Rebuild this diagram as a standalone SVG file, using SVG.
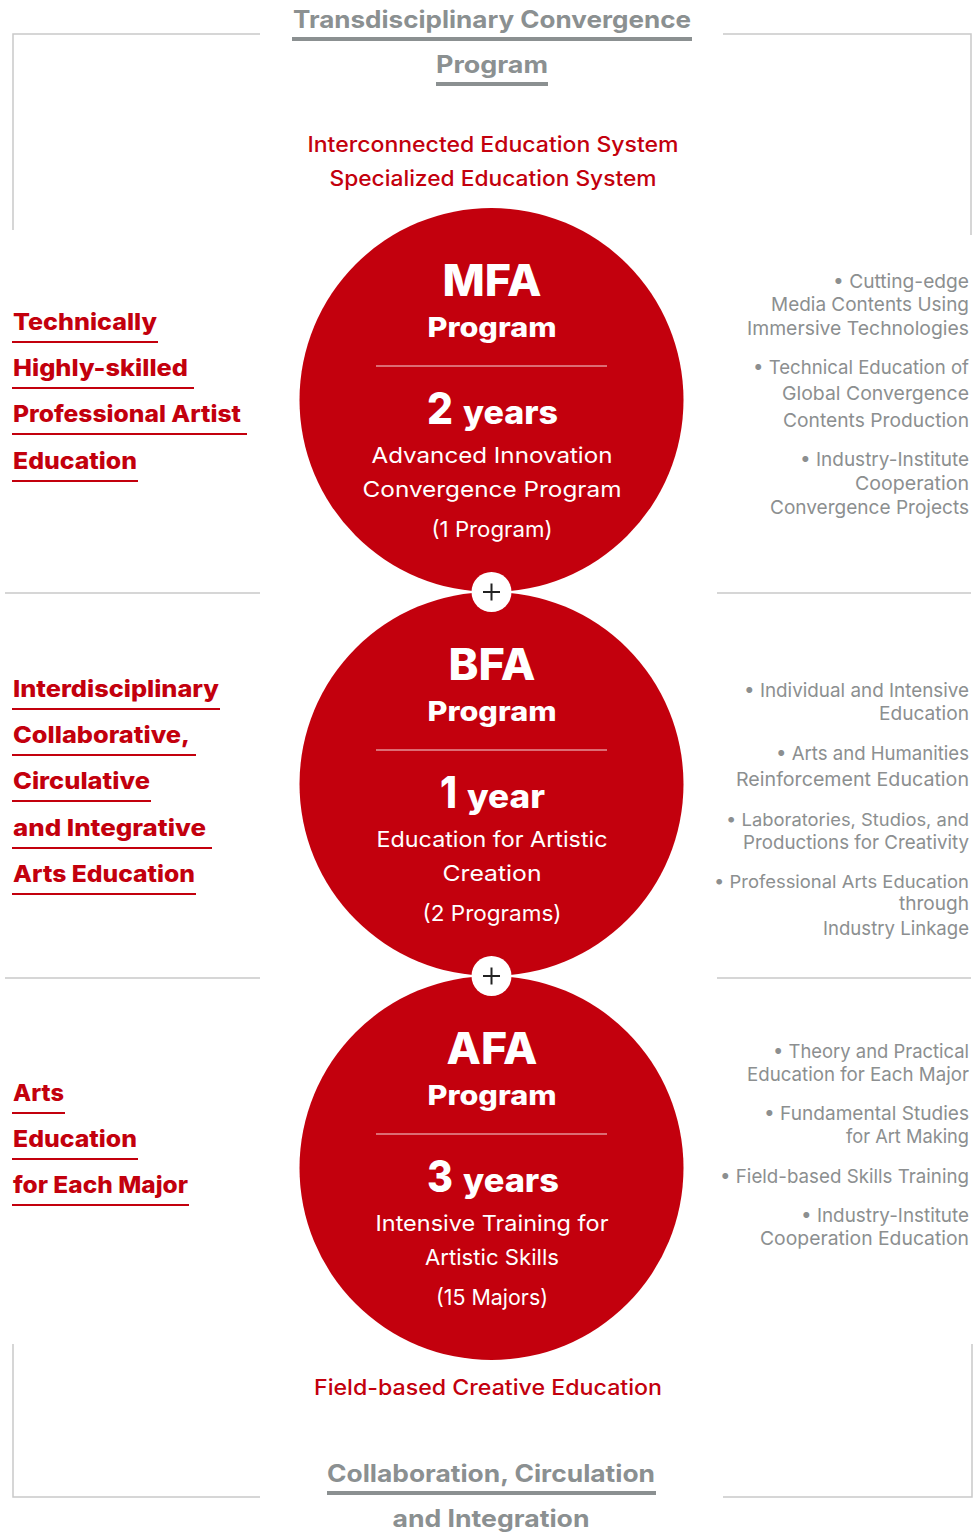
<svg xmlns="http://www.w3.org/2000/svg" width="974" height="1535" viewBox="0 0 974 1535">
<style>
.frame{stroke:#c9c9c9;stroke-width:1.5;fill:none}
.hdr{font-family:Inter,"Liberation Sans",sans-serif;font-weight:700;font-size:24px;fill:#8b9091;text-anchor:middle}
.hbar{fill:#8b9091}
.sys{font-family:Inter,"Liberation Sans",sans-serif;font-weight:500;font-size:21px;fill:#c3000d;text-anchor:middle}
.lbl{font-family:Inter,"Liberation Sans",sans-serif;font-weight:800;font-size:23px;fill:#c3000d}
.ul{stroke:#c3000d;stroke-width:2.2}
.rt{font-family:Inter,"Liberation Sans",sans-serif;font-weight:400;font-size:19px;fill:#8c8f90;text-anchor:end}
.rs{font-size:17.5px}
.circ{fill:#c3000d}
.big{font-family:Inter,"Liberation Sans",sans-serif;font-weight:800;font-size:44px;fill:#fff;text-anchor:middle}
.prog{font-family:Inter,"Liberation Sans",sans-serif;font-weight:800;font-size:27px;fill:#fff;text-anchor:middle}
.num{font-family:Inter,"Liberation Sans",sans-serif;font-weight:800;font-size:44px;fill:#fff}
.yr{font-family:Inter,"Liberation Sans",sans-serif;font-weight:800;font-size:32px;fill:#fff}
.desc{font-family:Inter,"Liberation Sans",sans-serif;font-weight:400;font-size:22px;fill:#fff;text-anchor:middle}
.div{stroke:#fff;stroke-opacity:0.85;stroke-width:1}
.plus{fill:#fff}
.pl{stroke:#222;stroke-width:2}
</style>

<g id="frame">
<path class="frame" d="M13 230 V34 H260 M723 34 H971 V235"/>
<path class="frame" d="M5 593 H260 M717 593 H971 M5 978 H260 M717 978 H971"/>
<path class="frame" d="M13 1344 V1497 H260 M723 1497 H972 V1344"/>
</g>

<g id="header-top">
<text class="hdr" x="492" y="28" textLength="398" lengthAdjust="spacingAndGlyphs">Transdisciplinary Convergence</text>
<rect class="hbar" x="292" y="37" width="400" height="4"/>
<text class="hdr" x="492" y="73" textLength="112" lengthAdjust="spacingAndGlyphs">Program</text>
<rect class="hbar" x="436" y="82" width="112" height="4"/>
</g>

<g id="system-label">
<text class="sys" x="493" y="152" textLength="371" lengthAdjust="spacingAndGlyphs">Interconnected Education System</text>
<text class="sys" x="493" y="186" textLength="327" lengthAdjust="spacingAndGlyphs">Specialized Education System</text>
</g>

<g id="mfa-left">
<text class="lbl" x="13" y="330" textLength="144" lengthAdjust="spacingAndGlyphs">Technically</text>
<line class="ul" x1="12" y1="342" x2="158" y2="342"/>
<text class="lbl" x="13" y="376" textLength="175" lengthAdjust="spacingAndGlyphs">Highly-skilled</text>
<line class="ul" x1="12" y1="388" x2="194" y2="388"/>
<text class="lbl" x="13" y="422" textLength="228" lengthAdjust="spacingAndGlyphs">Professional Artist</text>
<line class="ul" x1="12" y1="434" x2="247" y2="434"/>
<text class="lbl" x="13" y="469" textLength="124" lengthAdjust="spacingAndGlyphs">Education</text>
<line class="ul" x1="12" y1="481" x2="138" y2="481"/>
</g>

<g id="mfa">
<circle class="circ" cx="491.5" cy="400" r="192"/>
<text class="big" x="492" y="296" textLength="99" lengthAdjust="spacingAndGlyphs">MFA</text>
<text class="prog" x="492" y="337" textLength="129" lengthAdjust="spacingAndGlyphs">Program</text>
<line class="div" x1="376" y1="366" x2="607" y2="366"/>
<text class="num" x="427" y="424" textLength="26" lengthAdjust="spacingAndGlyphs">2</text>
<text class="yr" x="463" y="424" textLength="95" lengthAdjust="spacingAndGlyphs">years</text>
<text class="desc" x="492" y="463" textLength="241" lengthAdjust="spacingAndGlyphs">Advanced Innovation</text>
<text class="desc" x="492" y="497" textLength="259" lengthAdjust="spacingAndGlyphs">Convergence Program</text>
<text class="desc" x="492" y="537" textLength="121" lengthAdjust="spacingAndGlyphs">(1 Program)</text>
</g>

<g id="mfa-right">
<text class="rt" x="969" y="288" textLength="136" lengthAdjust="spacingAndGlyphs">• Cutting-edge</text>
<text class="rt" x="969" y="311" textLength="198" lengthAdjust="spacingAndGlyphs">Media Contents Using</text>
<text class="rt" x="969" y="335" textLength="222" lengthAdjust="spacingAndGlyphs">Immersive Technologies</text>
<text class="rt" x="969" y="374" textLength="216" lengthAdjust="spacingAndGlyphs">• Technical Education of</text>
<text class="rt" x="969" y="400" textLength="187" lengthAdjust="spacingAndGlyphs">Global Convergence</text>
<text class="rt" x="969" y="427" textLength="186" lengthAdjust="spacingAndGlyphs">Contents Production</text>
<text class="rt" x="969" y="466" textLength="169" lengthAdjust="spacingAndGlyphs">• Industry-Institute</text>
<text class="rt" x="969" y="490" textLength="114" lengthAdjust="spacingAndGlyphs">Cooperation</text>
<text class="rt" x="969" y="514" textLength="199" lengthAdjust="spacingAndGlyphs">Convergence Projects</text>
</g>

<g id="bfa-left">
<text class="lbl" x="13" y="697" textLength="206" lengthAdjust="spacingAndGlyphs">Interdisciplinary</text>
<line class="ul" x1="12" y1="709" x2="220" y2="709"/>
<text class="lbl" x="13" y="743" textLength="177" lengthAdjust="spacingAndGlyphs">Collaborative,</text>
<line class="ul" x1="12" y1="755" x2="196" y2="755"/>
<text class="lbl" x="13" y="789" textLength="137" lengthAdjust="spacingAndGlyphs">Circulative</text>
<line class="ul" x1="12" y1="801" x2="151" y2="801"/>
<text class="lbl" x="13" y="836" textLength="193" lengthAdjust="spacingAndGlyphs">and Integrative</text>
<line class="ul" x1="12" y1="848" x2="212" y2="848"/>
<text class="lbl" x="13" y="882" textLength="182" lengthAdjust="spacingAndGlyphs">Arts Education</text>
<line class="ul" x1="12" y1="894" x2="196" y2="894"/>
</g>

<g id="bfa">
<circle class="circ" cx="491.5" cy="784" r="192"/>
<text class="big" x="492" y="680" textLength="87" lengthAdjust="spacingAndGlyphs">BFA</text>
<text class="prog" x="492" y="721" textLength="129" lengthAdjust="spacingAndGlyphs">Program</text>
<line class="div" x1="376" y1="750" x2="607" y2="750"/>
<text class="num" x="440" y="808" textLength="17" lengthAdjust="spacingAndGlyphs">1</text>
<text class="yr" x="467" y="808" textLength="78" lengthAdjust="spacingAndGlyphs">year</text>
<text class="desc" x="492" y="847" textLength="231" lengthAdjust="spacingAndGlyphs">Education for Artistic</text>
<text class="desc" x="492" y="881" textLength="99" lengthAdjust="spacingAndGlyphs">Creation</text>
<text class="desc" x="492" y="921" textLength="139" lengthAdjust="spacingAndGlyphs">(2 Programs)</text>
</g>

<g id="bfa-right">
<text class="rt" x="969" y="697" textLength="225" lengthAdjust="spacingAndGlyphs">• Individual and Intensive</text>
<text class="rt" x="969" y="720" textLength="90" lengthAdjust="spacingAndGlyphs">Education</text>
<text class="rt" x="969" y="760" textLength="193" lengthAdjust="spacingAndGlyphs">• Arts and Humanities</text>
<text class="rt" x="969" y="786" textLength="233" lengthAdjust="spacingAndGlyphs">Reinforcement  Education</text>
<text class="rt rs" x="969" y="826" textLength="243" lengthAdjust="spacingAndGlyphs">• Laboratories, Studios, and</text>
<text class="rt" x="969" y="849" textLength="226" lengthAdjust="spacingAndGlyphs">Productions for Creativity</text>
<text class="rt rs" x="969" y="888" textLength="255" lengthAdjust="spacingAndGlyphs">• Professional Arts Education</text>
<text class="rt" x="969" y="910" textLength="70" lengthAdjust="spacingAndGlyphs">through</text>
<text class="rt" x="969" y="935" textLength="146" lengthAdjust="spacingAndGlyphs">Industry Linkage</text>
</g>

<g id="afa-left">
<text class="lbl" x="13" y="1101" textLength="51" lengthAdjust="spacingAndGlyphs">Arts</text>
<line class="ul" x1="12" y1="1113" x2="65" y2="1113"/>
<text class="lbl" x="13" y="1147" textLength="124" lengthAdjust="spacingAndGlyphs">Education</text>
<line class="ul" x1="12" y1="1159" x2="138" y2="1159"/>
<text class="lbl" x="13" y="1193" textLength="175" lengthAdjust="spacingAndGlyphs">for Each Major</text>
<line class="ul" x1="12" y1="1205" x2="189" y2="1205"/>
</g>

<g id="afa">
<circle class="circ" cx="491.5" cy="1168" r="192"/>
<text class="big" x="492" y="1064" textLength="91" lengthAdjust="spacingAndGlyphs">AFA</text>
<text class="prog" x="492" y="1105" textLength="129" lengthAdjust="spacingAndGlyphs">Program</text>
<line class="div" x1="376" y1="1134" x2="607" y2="1134"/>
<text class="num" x="427" y="1192" textLength="26" lengthAdjust="spacingAndGlyphs">3</text>
<text class="yr" x="463" y="1192" textLength="96" lengthAdjust="spacingAndGlyphs">years</text>
<text class="desc" x="492" y="1231" textLength="233" lengthAdjust="spacingAndGlyphs">Intensive Training for</text>
<text class="desc" x="492" y="1265" textLength="134" lengthAdjust="spacingAndGlyphs">Artistic Skills</text>
<text class="desc" x="492" y="1305" textLength="112" lengthAdjust="spacingAndGlyphs">(15 Majors)</text>
</g>

<g id="afa-right">
<text class="rt" x="969" y="1058" textLength="196" lengthAdjust="spacingAndGlyphs">• Theory and Practical</text>
<text class="rt" x="969" y="1081" textLength="222" lengthAdjust="spacingAndGlyphs">Education for Each Major</text>
<text class="rt" x="969" y="1120" textLength="205" lengthAdjust="spacingAndGlyphs">• Fundamental Studies</text>
<text class="rt" x="969" y="1143" textLength="123" lengthAdjust="spacingAndGlyphs">for Art Making</text>
<text class="rt" x="969" y="1183" textLength="249" lengthAdjust="spacingAndGlyphs">• Field-based Skills Training</text>
<text class="rt" x="969" y="1222" textLength="168" lengthAdjust="spacingAndGlyphs">• Industry-Institute</text>
<text class="rt" x="969" y="1245" textLength="209" lengthAdjust="spacingAndGlyphs">Cooperation Education</text>
</g>

<g id="connectors">
<circle class="plus" cx="491.5" cy="592" r="20"/>
<path class="pl" d="M483 592 H500 M491.5 583.5 V600.5"/>
<circle class="plus" cx="491.5" cy="976" r="20"/>
<path class="pl" d="M483 976 H500 M491.5 967.5 V984.5"/>
</g>

<g id="field-label">
<text class="sys" x="488" y="1395" textLength="348" lengthAdjust="spacingAndGlyphs">Field-based Creative Education</text>
</g>

<g id="header-bottom">
<text class="hdr" x="491" y="1482" textLength="328" lengthAdjust="spacingAndGlyphs">Collaboration, Circulation</text>
<rect class="hbar" x="327" y="1491" width="329" height="4"/>
<text class="hdr" x="491" y="1527" textLength="197" lengthAdjust="spacingAndGlyphs">and Integration</text>
</g>
</svg>
